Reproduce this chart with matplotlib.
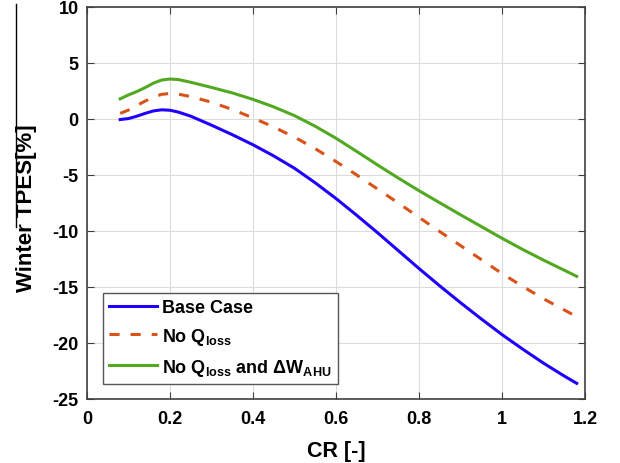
import matplotlib
matplotlib.use("Agg")
import matplotlib.pyplot as plt
from matplotlib.lines import Line2D

plt.rcParams['font.family'] = ['Liberation Sans', 'DejaVu Sans']
plt.rcParams['font.weight'] = 'bold'
plt.rcParams['axes.unicode_minus'] = False
plt.rcParams['mathtext.fontset'] = 'custom'
plt.rcParams['mathtext.rm'] = 'Liberation Sans:bold'
plt.rcParams['mathtext.it'] = 'Liberation Sans:bold'
plt.rcParams['mathtext.bf'] = 'Liberation Sans:bold'
plt.rcParams['mathtext.default'] = 'bf'

# CR values and winter TPES [%]
cr = [0.08, 0.10, 0.12, 0.14, 0.16, 0.18, 0.20, 0.22, 0.25, 0.30, 0.35, 0.40,
      0.45, 0.50, 0.55, 0.60, 0.65, 0.70, 0.75, 0.80, 0.85, 0.90, 0.95, 1.00,
      1.05, 1.10, 1.15, 1.18]
base_case = [-0.05, 0.04, 0.25, 0.5, 0.72, 0.82, 0.78, 0.62, 0.25, -0.55, -1.4, -2.3,
             -3.3, -4.4, -5.7, -7.1, -8.6, -10.15, -11.75, -13.35, -14.9, -16.4, -17.85, -19.25,
             -20.55, -21.8, -22.95, -23.6]
no_qloss = [0.5, 0.8, 1.2, 1.6, 1.95, 2.2, 2.28, 2.22, 2.0, 1.5, 0.85, 0.1,
            -0.72, -1.62, -2.65, -3.8, -5.0, -6.25, -7.5, -8.78, -10.05, -11.3, -12.55, -13.8,
            -14.95, -16.05, -17.05, -17.65]
no_qloss_dw = [1.8, 2.15, 2.45, 2.8, 3.2, 3.48, 3.57, 3.52, 3.28, 2.82, 2.33, 1.75,
               1.08, 0.3, -0.65, -1.72, -2.9, -4.1, -5.27, -6.4, -7.48, -8.55, -9.6, -10.65,
               -11.65, -12.6, -13.5, -14.05]

labels = ['Base Case', r'No Q$_{loss}$', r'No Q$_{loss}$ and ΔW$_{AHU}$']

fig = plt.figure(figsize=(6.2, 4.64), dpi=100)
ax = fig.add_axes([87 / 620, 1 - 400 / 464, 498 / 620, 392 / 464])

ax.plot(cr, base_case, color='#1f00ff', lw=2.2, label=labels[0])
ax.plot(cr, no_qloss, color='#d95319', lw=2.2, dashes=(3.3, 3.6), label=labels[1])
ax.plot(cr, no_qloss_dw, color='#52a820', lw=2.2, label=labels[2])

ax.set_xlim(0, 1.2)
ax.set_ylim(-25, 10)
ax.set_xticks([0, 0.2, 0.4, 0.6, 0.8, 1.0, 1.2])
ax.set_xticklabels(['0', '0.2', '0.4', '0.6', '0.8', '1', '1.2'])
ax.set_yticks([-25, -20, -15, -10, -5, 0, 5, 10])
ax.grid(True, color='#dcdcdc', lw=0.8)
ax.set_axisbelow(True)
ax.tick_params(direction='in', top=True, right=True, length=5, width=0.8,
               color='#404040', labelsize=13, pad=6)
ax.tick_params(axis='x', pad=8)
for s in ax.spines.values():
    s.set_color('#404040')
    s.set_linewidth(1.2)

ax.set_xlabel('CR [-]', fontsize=15.5, fontweight='bold')
ax.set_ylabel('Winter TPES[%]', fontsize=16, fontweight='bold')
ax.xaxis.set_label_coords(0.5, -0.105)
ax.yaxis.set_label_coords(-0.1, 0.49)

leg = ax.legend(loc='lower left', bbox_to_anchor=(15.5 / 498, 15 / 392), fontsize=13,
                handlelength=2.65, handletextpad=0.3, borderaxespad=0,
                fancybox=False, framealpha=1, borderpad=0.35, labelspacing=0.55)
leg.get_frame().set_edgecolor('#555555')
leg.get_frame().set_linewidth(1.0)

# thin vertical line at the left edge of the source image
fig.add_artist(Line2D([16 / 620, 16 / 620], [1 - 228 / 464, 1 - 5 / 464],
                      color='black', lw=1.0, transform=fig.transFigure))

fig.savefig('out.png', dpi=100)
